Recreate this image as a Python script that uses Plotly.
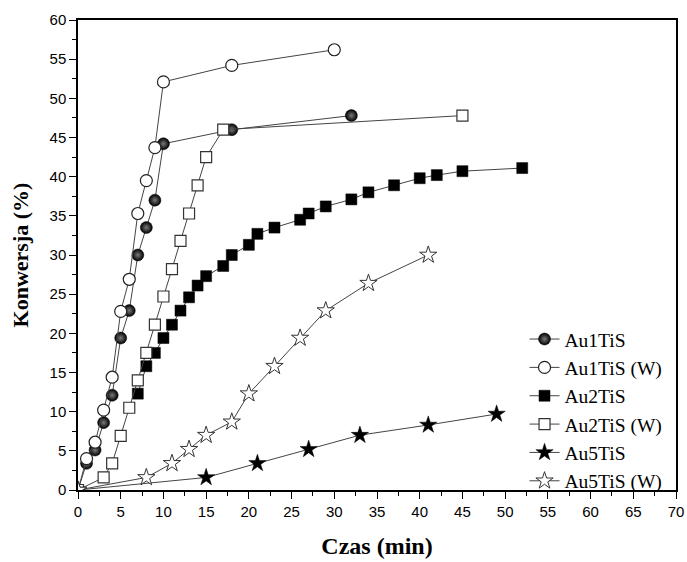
import plotly.graph_objects as go

# Data
au1_x = [0, 1, 2, 3, 4, 5, 6, 7, 8, 9, 10, 18, 32]
au1_y = [0, 3.4, 5.1, 8.6, 12.1, 19.4, 22.9, 30.0, 33.5, 37.0, 44.2, 46.0, 47.8]

au1w_x = [0, 1, 2, 3, 4, 5, 6, 7, 8, 9, 10, 18, 30]
au1w_y = [0, 4.0, 6.1, 10.2, 14.4, 22.8, 26.9, 35.3, 39.5, 43.7, 52.1, 54.2, 56.2]

au2_x = [7, 8, 9, 10, 11, 12, 13, 14, 15, 17, 18, 20, 21, 23, 26, 27, 29, 32, 34, 37, 40, 42, 45, 52]
au2_y = [12.3, 15.8, 17.5, 19.4, 21.1, 22.9, 24.6, 26.1, 27.3, 28.6, 30.0, 31.3, 32.7, 33.5,
         34.5, 35.3, 36.2, 37.1, 38.0, 38.9, 39.8, 40.2, 40.7, 41.1]

au2w_x = [0, 3, 4, 5, 6, 7, 8, 9, 10, 11, 12, 13, 14, 15, 17, 45]
au2w_y = [0, 1.6, 3.4, 6.9, 10.5, 14.0, 17.5, 21.1, 24.7, 28.2, 31.8, 35.3, 38.9, 42.5, 46.0, 47.8]

au5_x = [0, 15, 21, 27, 33, 41, 49]
au5_y = [0, 1.6, 3.4, 5.2, 7.0, 8.3, 9.7]

au5w_x = [0, 8, 11, 13, 15, 18, 20, 23, 26, 29, 34, 41]
au5w_y = [0, 1.6, 3.4, 5.2, 7.0, 8.7, 12.3, 15.8, 19.4, 22.9, 26.4, 30.0]

names = ["Au1TiS", "Au1TiS (W)", "Au2TiS", "Au2TiS (W)", "Au5TiS", "Au5TiS (W)"]

SERIF = "Liberation Serif"
SANS = "Liberation Sans"
LINE = dict(color="#444444", width=1)

fig = go.Figure()

def add(x, y, name, marker):
    fig.add_trace(go.Scatter(x=x, y=y, name=name, mode="lines+markers",
                             line=LINE, marker=marker))

add(au1_x, au1_y, names[0],
    dict(symbol="circle", size=12, color="#000000",
         gradient=dict(type="radial", color="#7a7a7a"),
         line=dict(color="#000000", width=0.5)))
add(au1w_x, au1w_y, names[1],
    dict(symbol="circle", size=12, color="white", line=dict(color="#222222", width=1.2)))
add(au2_x, au2_y, names[2],
    dict(symbol="square", size=11, color="black", line=dict(color="black", width=0.5)))
add(au2w_x, au2w_y, names[3],
    dict(symbol="square", size=11, color="white", line=dict(color="#333333", width=1.2)))
add(au5_x, au5_y, names[4],
    dict(symbol="star", size=13, color="black", line=dict(color="black", width=0.5)))
add(au5w_x, au5w_y, names[5],
    dict(symbol="star", size=13, color="white", line=dict(color="#333333", width=1)))

axis_common = dict(
    showline=True, linecolor="black", linewidth=1.5, mirror=True,
    ticks="outside", ticklen=7, tickwidth=1.3, tickcolor="black",
    showgrid=False, zeroline=False, automargin=False,
    tickfont=dict(family=SANS, size=15, color="black"),
)

fig.update_xaxes(range=[0, 70], dtick=5, tick0=0,
                 minor=dict(dtick=2.5, ticklen=4, ticks="outside", tickcolor="black", tickwidth=1.2),
                 title=dict(text="<b>Czas (min)</b>", font=dict(family=SERIF, size=24, color="black"),
                            standoff=18),
                 **axis_common)
fig.update_yaxes(range=[0, 60], dtick=5, tick0=0,
                 minor=dict(dtick=2.5, ticklen=4, ticks="outside", tickcolor="black", tickwidth=1.2),
                 title=dict(text="<b>Konwersja (%)</b>", font=dict(family=SERIF, size=22, color="black"),
                            standoff=15),
                 **axis_common)

fig.update_layout(
    width=687, height=562,
    margin=dict(l=78, r=11, t=20, b=72),
    paper_bgcolor="white", plot_bgcolor="white",
    legend=dict(x=0.7467, y=0.362, xanchor="left", yanchor="top",
                font=dict(family=SERIF, size=19.5, color="black"),
                bgcolor="rgba(0,0,0,0)", borderwidth=0),
    showlegend=True,
)

fig.write_html("out.html")
